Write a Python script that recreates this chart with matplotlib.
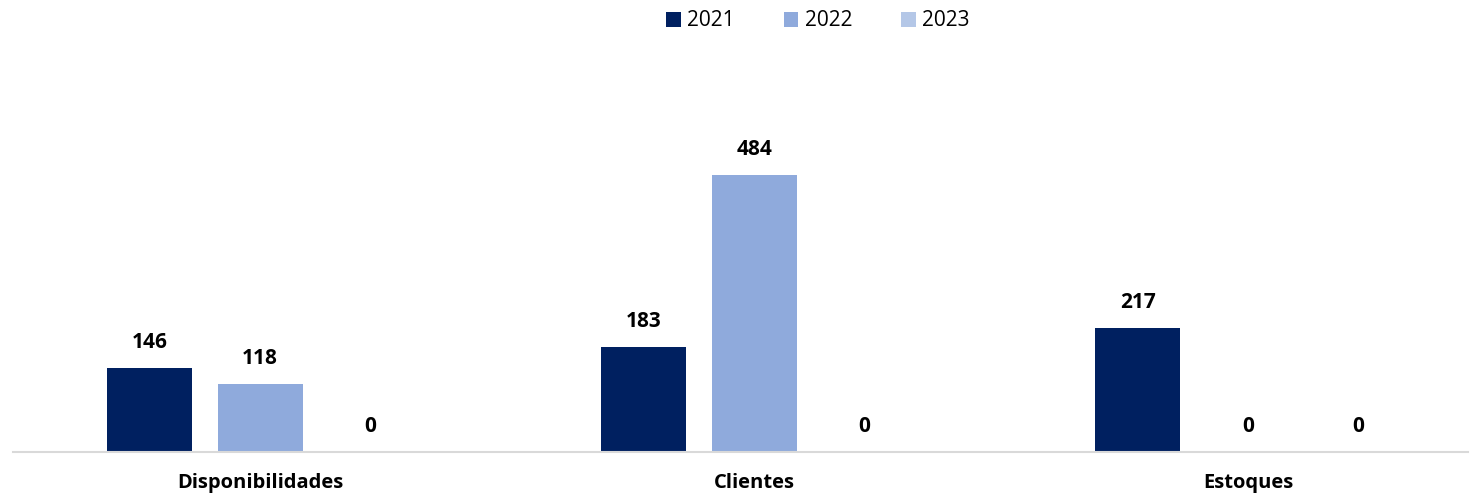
import matplotlib

matplotlib.use("Agg")
import matplotlib.pyplot as plt
import numpy as np

categories = ["Disponibilidades", "Clientes", "Estoques"]
years = ["2021", "2022", "2023"]
values_2021 = [146, 183, 217]
values_2022 = [118, 484, 0]
values_2023 = [0, 0, 0]
colors = ["#002060", "#8FAADC", "#B4C7E7"]

plt.rcParams["font.family"] = ["Open Sans", "DejaVu Sans"]

fig = plt.figure(figsize=(14.78, 4.95), dpi=100)
ax = fig.add_axes([13 / 1478, 43 / 495, (1468 - 13) / 1478, 392 / 495])

x = np.arange(len(categories))
width = 0.172
step = 0.223
series = [values_2021, values_2022, values_2023]
for i, (vals, year, color) in enumerate(zip(series, years, colors)):
    bars = ax.bar(x + (i - 1) * step, vals, width, color=color, label=year)
    for bar, v in zip(bars, vals):
        ax.annotate(
            f"{v}",
            (bar.get_x() + bar.get_width() / 2, bar.get_height()),
            xytext=(0, 11),
            textcoords="offset points",
            ha="center",
            va="bottom",
            fontsize=15,
            fontweight="bold",
        )

ax.set_xlim(-0.5, 2.445)
ax.set_ylim(0, 685)
ax.set_xticks(x)
ax.set_xticklabels(categories, fontsize=14.5, fontweight="bold")
ax.tick_params(axis="x", length=0, pad=15)
ax.set_yticks([])
for side in ["top", "right", "left"]:
    ax.spines[side].set_visible(False)
ax.spines["bottom"].set_color("#D9D9D9")
ax.spines["bottom"].set_linewidth(1.5)

fig.legend(
    loc="center",
    bbox_to_anchor=(818 / 1478, 1 - 21 / 495),
    ncol=3,
    frameon=False,
    fontsize=15,
    handlelength=0.7,
    handleheight=0.7,
    handletextpad=0.3,
    columnspacing=2.35,
)

fig.savefig("out.png", dpi=100)
